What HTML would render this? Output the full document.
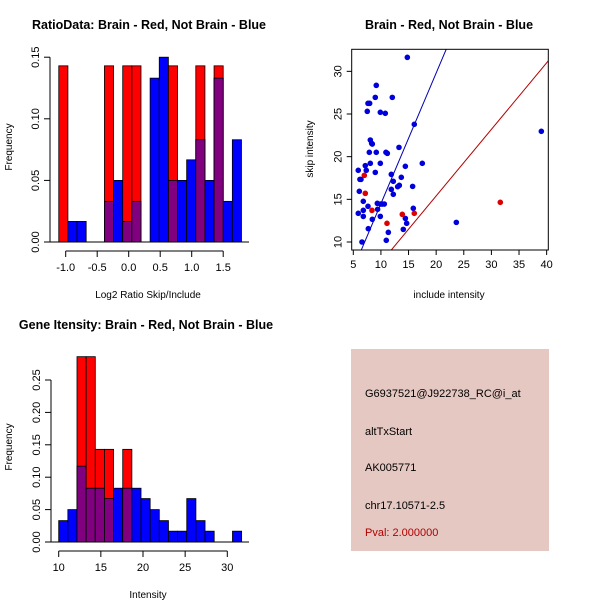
<!DOCTYPE html>
<html><head><meta charset="utf-8"><style>
html,body{margin:0;padding:0;background:#fff;}
svg{display:block;font-family:"Liberation Sans",sans-serif;}
</style></head><body>
<svg id="s" width="600" height="600" viewBox="0 0 600 600">
<rect x="0" y="0" width="600" height="600" fill="#fff"/>
<g id="p1"></g>
<g id="p2"></g>
<g id="p3"></g>
<g>
<rect x="351" y="349" width="198" height="202" fill="#e5c8c2"/>
<text x="365" y="397" font-size="11" fill="#000">G6937521@J922738_RC@i_at</text>
<text x="365" y="435" font-size="11" fill="#000">altTxStart</text>
<text x="365" y="471" font-size="11" fill="#000">AK005771</text>
<text x="365" y="509" font-size="11" fill="#000">chr17.10571-2.5</text>
<text x="365" y="536" font-size="11" fill="#b00000">Pval: 2.000000</text>
</g>
</svg>
<script>
// ---- Panel 1 data ----
const ratioBinStart = -1.11;
const ratioBinWidth = 0.145;
const ratioRed  = [0.143,0,0,0,0,0.143,0,0.143,0.143,0,0,0,0.143,0,0,0.143,0,0.143,0,0];
const ratioBlue = [0,0.0167,0.0167,0,0,0.033,0.05,0.0167,0.033,0,0.133,0.15,0.05,0.05,0.0667,0.083,0.05,0.133,0.033,0.083];
const ratioXTicks = [-1.0,-0.5,0.0,0.5,1.0,1.5];
const ratioXLabels = ["-1.0","-0.5","0.0","0.5","1.0","1.5"];
const ratioYTicks = [0,0.05,0.10,0.15];
const ratioYLabels = ["0.00","0.05","0.10","0.15"];
// ---- Panel 2 data ----
const blueX = [14.78,9.16,8.98,12.06,7.66,7.96,7.53,9.89,10.79,16.04,39.04,8.08,8.32,8.44,7.9,9.16,10.91,11.16,13.27,9.89,8.08,17.49,7.17,14.42,5.9,7.35,8.98,11.88,13.69,6.2,6.39,12.24,13.33,13.03,15.74,11.88,6.09,12.24,6.81,9.35,9.95,10.25,10.61,7.66,6.81,15.86,9.4,5.9,6.81,9.89,8.44,14.42,14.66,23.65,7.72,11.34,14.05,10.97,6.57];
const blueY = [31.64,28.36,26.95,26.95,26.25,26.25,25.31,25.2,25.08,23.79,22.97,21.95,21.56,21.48,20.51,20.51,20.51,20.39,21.09,19.22,19.22,19.22,18.95,18.87,18.4,18.4,18.16,17.93,17.58,17.34,17.34,17.11,16.64,16.48,16.52,16.17,15.94,15.59,14.77,14.53,14.45,14.45,14.45,14.18,13.71,13.95,13.83,13.36,13.0,13.0,12.66,12.77,12.19,12.3,11.56,11.13,11.48,10.2,10.0];
const redX = [6.99,7.17,8.38,11.1,13.87,16.04,31.61];
const redY = [17.81,15.7,13.71,12.19,13.24,13.36,14.65];
const lineSlopes = [1.53,0.78];
const lineIntercepts = [-0.8,-0.2];
const scXTicks = [5,10,15,20,25,30,35,40];
const scYTicks = [10,15,20,25,30];
// ---- Panel 3 data ----
const geneBinStart = 10;
const geneBinWidth = 1.085;
const geneRed  = [0,0,0.286,0.286,0.143,0.143,0,0.143,0,0,0,0,0,0,0,0,0,0,0,0];
const geneBlue = [0.033,0.05,0.117,0.083,0.083,0.067,0.083,0.083,0.083,0.067,0.05,0.033,0.0167,0.0167,0.067,0.033,0.0167,0,0,0.0167];
const geneXTicks = [10,15,20,25,30];
const geneYTicks = [0,0.05,0.10,0.15,0.20,0.25];
const geneYLabels = ["0.00","0.05","0.10","0.15","0.20","0.25"];

const NS="http://www.w3.org/2000/svg";
function mk(parent,tag,attrs,txt){const e=document.createElementNS(NS,tag);for(const k in attrs)e.setAttribute(k,attrs[k]);if(txt!==undefined)e.textContent=txt;parent.appendChild(e);return e;}

function histogram(g,binStart,binW,red,blue,sx,sy){
  for(let i=0;i<blue.length;i++){
    const x0=sx(binStart+i*binW),x1=sx(binStart+(i+1)*binW);
    const b=blue[i],r=red[i];
    if(b>0){const e=mk(g,'rect',{x:x0,y:sy(b),width:x1-x0,height:sy(0)-sy(b),fill:'#0000ff',stroke:'#000','stroke-width':0.8});
      
      }
    if(r>0){const e=mk(g,'rect',{x:x0,y:sy(r),width:x1-x0,height:sy(0)-sy(r),fill:'#ff0000',stroke:'#000','stroke-width':0.8});
      
      }
    const m=Math.min(b,r);
    if(m>0){const e=mk(g,'rect',{x:x0,y:sy(m),width:x1-x0,height:sy(0)-sy(m),fill:'#800080',stroke:'#000','stroke-width':0.8});
      
      }
  }
}
function yAxis(g,x,ticks,labels,sy){
  mk(g,'line',{x1:x,x2:x,y1:sy(ticks[0]),y2:sy(ticks[ticks.length-1]),stroke:'#000'});
  ticks.forEach((t,i)=>{const y=sy(t);mk(g,'line',{x1:x,x2:x-6,y1:y,y2:y,stroke:'#000'});
    const e=mk(g,'text',{x:x-11,y:y,'font-size':11,'text-anchor':'middle',transform:`rotate(-90 ${x-11} ${y})`},labels[i]);
    
    });
}
function xAxis(g,y,ticks,labels,sx){
  mk(g,'line',{x1:sx(ticks[0]),x2:sx(ticks[ticks.length-1]),y1:y,y2:y,stroke:'#000'});
  ticks.forEach((t,i)=>{const x=sx(t);mk(g,'line',{x1:x,x2:x,y1:y,y2:y+6,stroke:'#000'});
    const e=mk(g,'text',{x:x,y:y+20,'font-size':11,'text-anchor':'middle'},labels[i]);
    
    });
}
function label(g,x,y,txt,name,opts){const e=mk(g,'text',Object.assign({x:x,y:y,'font-size':10,'text-anchor':'middle'},opts||{}),txt);
  
  return e;}

// Panel 1
(function(){
  const g=document.getElementById('p1');
  const sx=v=>65.7+(v+1)*63.0, sy=v=>242-v*1232;
  mk(g,'line',{x1:50,x2:249,y1:242,y2:242,stroke:'#000'});
  histogram(g,ratioBinStart,ratioBinWidth,ratioRed,ratioBlue,sx,sy);
  yAxis(g,50,ratioYTicks,ratioYLabels,sy);
  xAxis(g,251,ratioXTicks,ratioXLabels,sx);
  label(g,149,29,'RatioData: Brain - Red, Not Brain - Blue','chart-title',{'font-size':12.5,'font-weight':'bold'});
  label(g,148,298,'Log2 Ratio Skip/Include','x-axis-title');
  label(g,12,147,'Frequency','y-axis-title',{transform:'rotate(-90 12 147)'});
})();
// Panel 2
(function(){
  const g=document.getElementById('p2');
  const sx=v=>353.3+(v-5)*5.524, sy=v=>242-(v-10)*8.533;
  const L=351.7,R=548.3,T=49.3,B=250;
  const clip=mk(g,'clipPath',{id:'c2'});mk(clip,'rect',{x:L,y:T,width:R-L,height:B-T});
  const lc=['#0000b0','#b00000'];
  const xmin=4.71,xmax=40.3;
  lineSlopes.forEach((m,i)=>{const e=mk(g,'line',{x1:sx(xmin),y1:sy(m*xmin+lineIntercepts[i]),x2:sx(xmax),y2:sy(m*xmax+lineIntercepts[i]),stroke:lc[i],'stroke-width':1,'clip-path':'url(#c2)'});
    
    });
  blueX.forEach((x,i)=>{const e=mk(g,'circle',{cx:sx(x),cy:sy(blueY[i]),r:2.8,fill:'#0000dd'});
    
    });
  redX.forEach((x,i)=>{const e=mk(g,'circle',{cx:sx(x),cy:sy(redY[i]),r:2.8,fill:'#dd0000'});
    
    });
  mk(g,'rect',{x:L,y:T,width:R-L,height:B-T,fill:'none',stroke:'#000'});
  scXTicks.forEach(t=>{const x=sx(t);mk(g,'line',{x1:x,x2:x,y1:B,y2:B+5,stroke:'#000'});
    label(g,x,B+18,String(t),'x-tick-label',{'font-size':11});});
  scYTicks.forEach(t=>{const y=sy(t);mk(g,'line',{x1:L,x2:L-5,y1:y,y2:y,stroke:'#000'});
    label(g,L-10,y,String(t),'y-tick-label',{'font-size':11,transform:`rotate(-90 ${L-10} ${y})`});});
  label(g,449,29,'Brain - Red, Not Brain - Blue','chart-title',{'font-size':12.5,'font-weight':'bold'});
  label(g,449,298,'include intensity','x-axis-title');
  label(g,313,149,'skip intensity','y-axis-title',{transform:'rotate(-90 313 149)'});
})();
// Panel 3
(function(){
  const g=document.getElementById('p3');
  const sx=v=>58.7+(v-10)*8.43, sy=v=>542-v*648;
  mk(g,'line',{x1:50,x2:249,y1:542,y2:542,stroke:'#000'});
  histogram(g,geneBinStart,geneBinWidth,geneRed,geneBlue,sx,sy);
  yAxis(g,51,geneYTicks,geneYLabels,sy);
  xAxis(g,551,geneXTicks,geneXTicks.map(String),sx);
  label(g,146,329,'Gene Itensity: Brain - Red, Not Brain - Blue','chart-title',{'font-size':12.5,'font-weight':'bold'});
  label(g,148,598,'Intensity','x-axis-title');
  label(g,12,447,'Frequency','y-axis-title',{transform:'rotate(-90 12 447)'});
})();
</script>
</body></html>
